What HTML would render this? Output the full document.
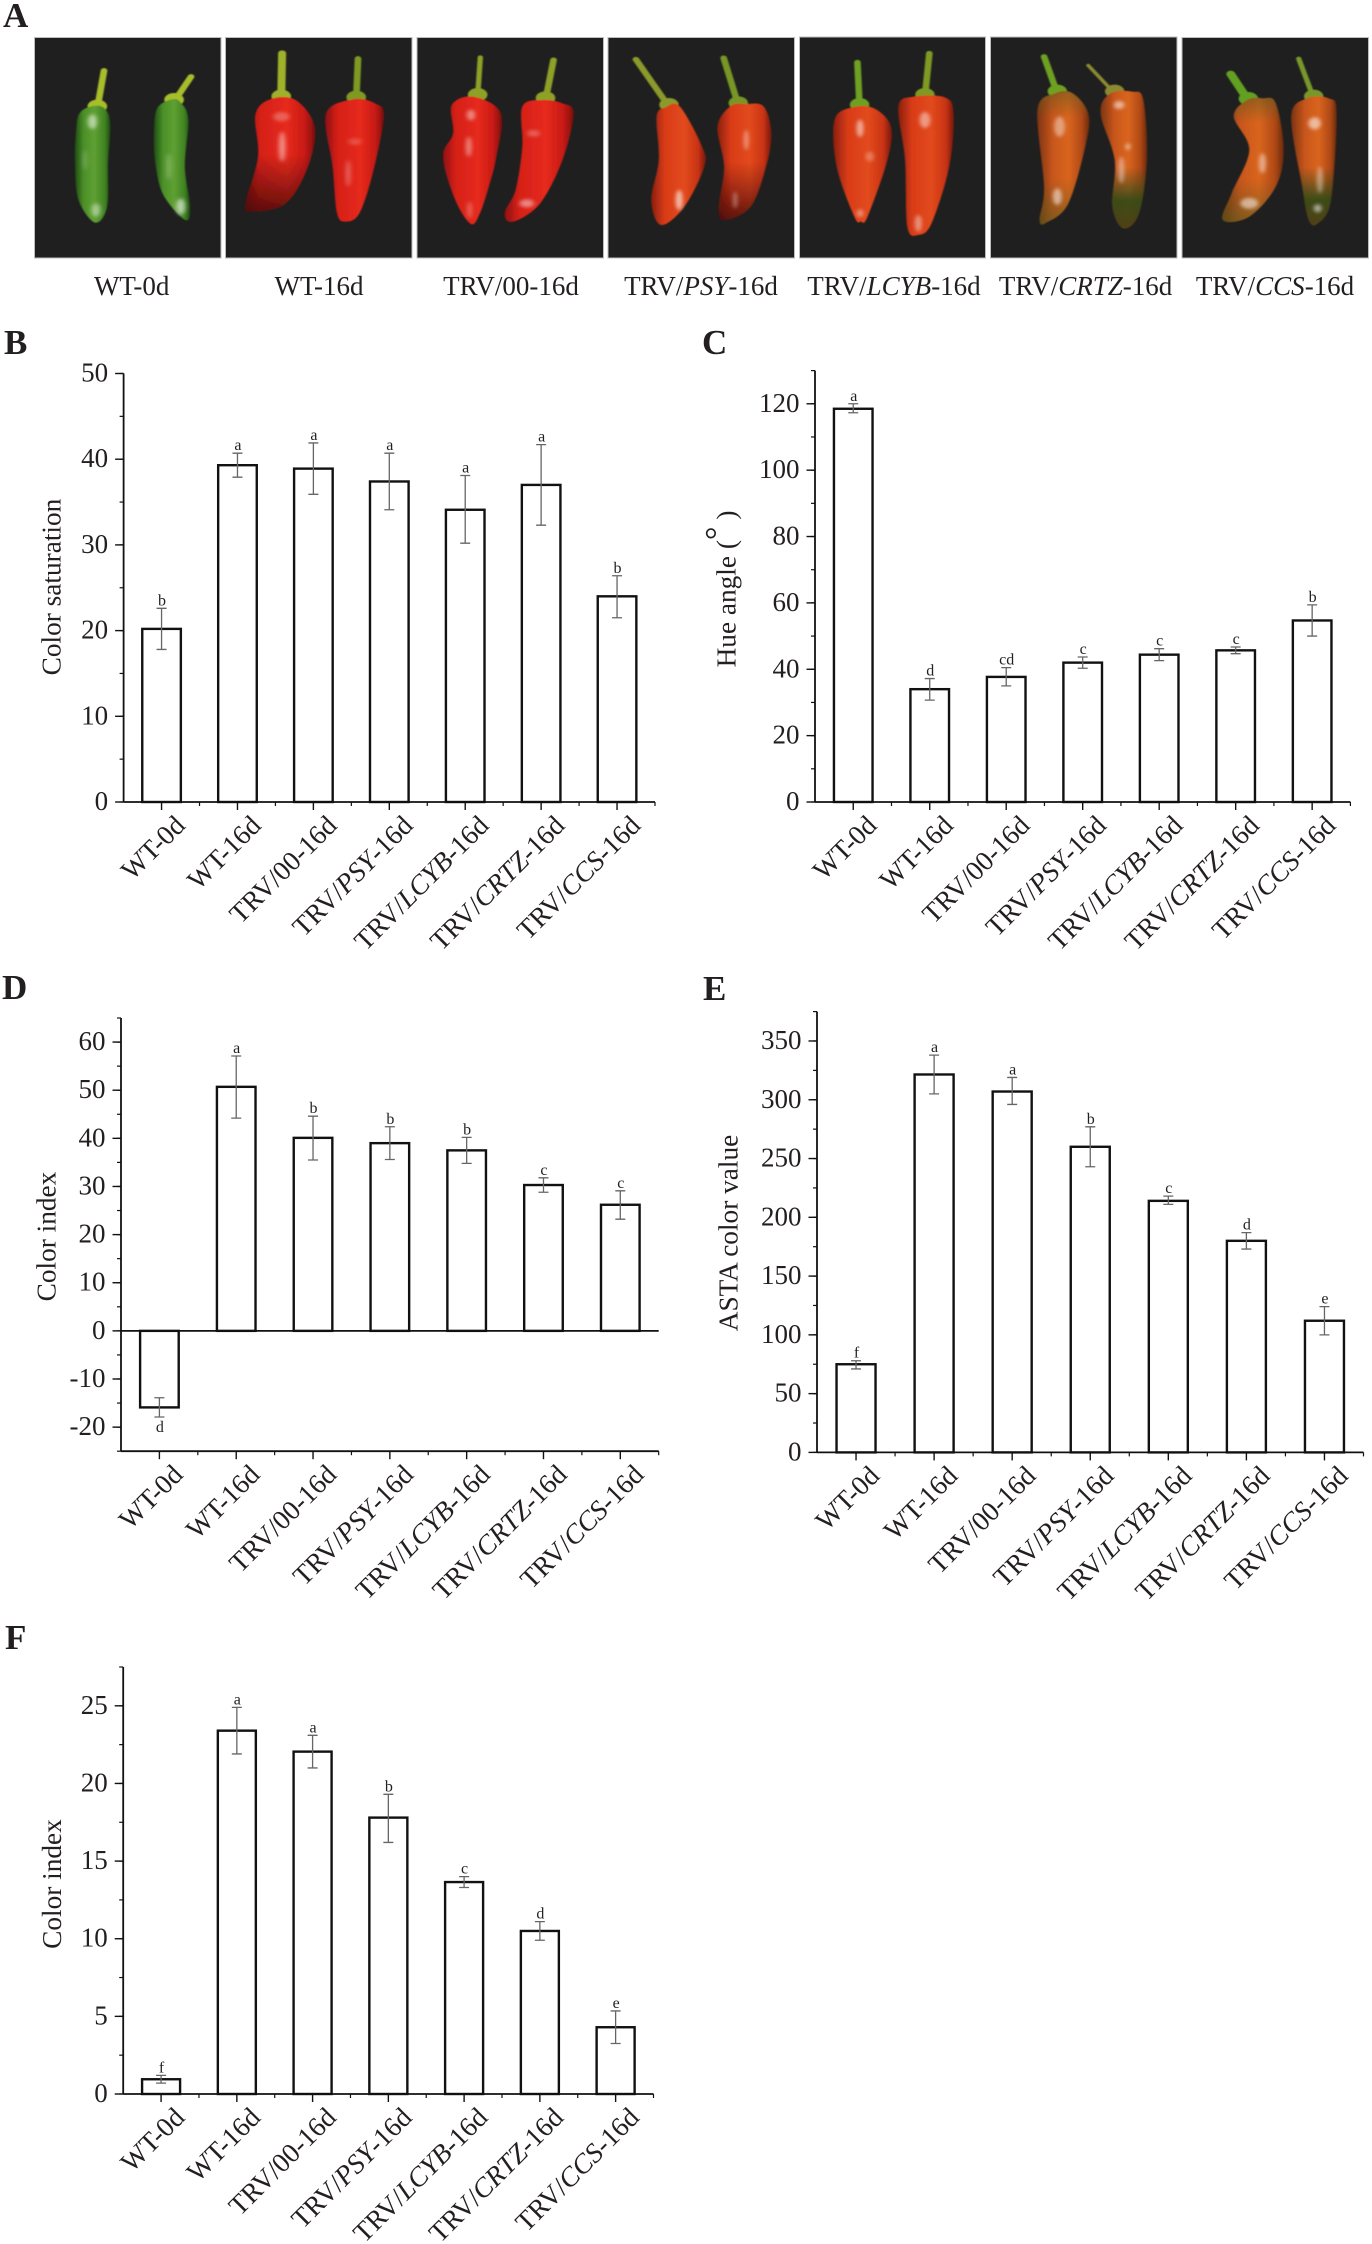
<!DOCTYPE html>
<html lang="en">
<head>
<meta charset="utf-8">
<title>Pepper colour phenotypes</title>
<style>
html,body{margin:0;padding:0;background:#fff}
#figure{position:absolute;left:0;top:0;display:block}
text{font-family:"Liberation Serif","Noto Serif CJK SC",serif;fill:#231f20}
</style>
</head>
<body>
<svg id="figure" xmlns="http://www.w3.org/2000/svg" width="1372" height="2244" viewBox="0 0 1372 2244">
<defs>
<linearGradient id="g-green" x1="0" x2="1" y1="0" y2="0"><stop offset="0" stop-color="#1f4f12"/><stop offset=".25" stop-color="#4b8f28"/><stop offset=".55" stop-color="#5fa032"/><stop offset=".85" stop-color="#3f8222"/><stop offset="1" stop-color="#1d4a10"/></linearGradient>
<linearGradient id="g-red" x1="0" x2="1" y1="0" y2="0"><stop offset="0" stop-color="#8a1010"/><stop offset=".2" stop-color="#d41f18"/><stop offset=".6" stop-color="#e62a1c"/><stop offset=".85" stop-color="#c81a14"/><stop offset="1" stop-color="#7c0e0e"/></linearGradient>
<linearGradient id="g-redorange" x1="0" x2="1" y1="0" y2="0"><stop offset="0" stop-color="#8c1f0e"/><stop offset=".25" stop-color="#d93c18"/><stop offset=".6" stop-color="#e24a1c"/><stop offset=".85" stop-color="#c93414"/><stop offset="1" stop-color="#7a180c"/></linearGradient>
<linearGradient id="g-orange" x1="0" x2="1" y1="0" y2="0"><stop offset="0" stop-color="#7c3410"/><stop offset=".3" stop-color="#c8561c"/><stop offset=".6" stop-color="#d9651f"/><stop offset=".85" stop-color="#b24a16"/><stop offset="1" stop-color="#6c2a0c"/></linearGradient>
<linearGradient id="t-dark" x1="0" x2="0" y1="0" y2="1"><stop offset=".5" stop-color="#4a0808" stop-opacity="0"/><stop offset="1" stop-color="#3e0808" stop-opacity=".8"/></linearGradient>
<linearGradient id="t-green" x1="0" x2="0" y1="0" y2="1"><stop offset=".55" stop-color="#2c4a18" stop-opacity="0"/><stop offset=".8" stop-color="#2c4a18" stop-opacity=".9"/><stop offset="1" stop-color="#3a3a14" stop-opacity=".85"/></linearGradient>
<linearGradient id="t-olive" x1="0" x2="0" y1="0" y2="1"><stop offset="0" stop-color="#5a5a20" stop-opacity=".55"/><stop offset=".2" stop-color="#5a5a20" stop-opacity="0"/><stop offset=".65" stop-color="#5a5a20" stop-opacity="0"/><stop offset="1" stop-color="#4c5a1c" stop-opacity=".6"/></linearGradient>
<filter id="soft" x="-20%" y="-20%" width="140%" height="140%"><feGaussianBlur stdDeviation="1.6"/></filter>
<filter id="glow" x="-50%" y="-50%" width="200%" height="200%"><feGaussianBlur stdDeviation="4.5"/></filter>
</defs>

<g id="photo-panel">
<rect x="34.5" y="37.5" width="186.5" height="220.5" fill="#1f1f1f" stroke="#bdbdbd"/>
<rect x="225.5" y="37.5" width="186.5" height="220.5" fill="#1f1f1f" stroke="#bdbdbd"/>
<rect x="417" y="37.5" width="186.5" height="220.5" fill="#1f1f1f" stroke="#bdbdbd"/>
<rect x="608" y="37.5" width="186.5" height="220.5" fill="#1f1f1f" stroke="#bdbdbd"/>
<rect x="799.5" y="37" width="186" height="221" fill="#1f1f1f" stroke="#bdbdbd"/>
<rect x="990.5" y="37" width="186.5" height="221" fill="#1f1f1f" stroke="#bdbdbd"/>
<rect x="1182" y="37.5" width="186.5" height="220.5" fill="#1f1f1f" stroke="#bdbdbd"/>
<g id="peppers-left" transform="scale(0.4464 0.3333)"></g>
<g id="peppers-right" transform="translate(680 0) scale(0.4413 0.3333)"></g>
</g>

<g font-size="27" text-anchor="middle">
<text x="131.7" y="295">WT-0d</text>
<text x="319" y="295">WT-16d</text>
<text x="511" y="295">TRV/00-16d</text>
<text x="701" y="295">TRV/<tspan font-style="italic">PSY</tspan>-16d</text>
<text x="894" y="295">TRV/<tspan font-style="italic">LCYB</tspan>-16d</text>
<text x="1085.6" y="295">TRV/<tspan font-style="italic">CRTZ</tspan>-16d</text>
<text x="1275" y="295">TRV/<tspan font-style="italic">CCS</tspan>-16d</text>
</g>

<g font-size="35" font-weight="bold">
<text x="3" y="27">A</text>
<text x="4" y="354">B</text>
<text x="702" y="354">C</text>
<text x="2" y="999">D</text>
<text x="703" y="1000">E</text>
<text x="5" y="1649">F</text>
</g>

<g font-size="27.3" text-anchor="middle">
<text transform="translate(60.7 587) rotate(-90)">Color saturation</text>
<text transform="translate(735.5 589) rotate(-90)">Hue angle (<tspan font-size="34" dy="-7">°</tspan><tspan dy="7"> )</tspan></text>
<text transform="translate(55.5 1236.5) rotate(-90)">Color index</text>
<text transform="translate(737.7 1233) rotate(-90)">ASTA color value</text>
<text transform="translate(61 1884) rotate(-90)">Color index</text>
</g>

<g id="charts"></g>
</svg>

<script>
const categories = ["WT-0d", "WT-16d", "TRV/00-16d", "TRV/PSY-16d", "TRV/LCYB-16d", "TRV/CRTZ-16d", "TRV/CCS-16d"];

const bValues = [20.2, 39.3, 38.9, 37.4, 34.1, 37.0, 24.0];
const bHigh = [22.6, 40.7, 41.9, 40.7, 38.1, 41.7, 26.4];
const bLow = [17.8, 37.9, 35.9, 34.1, 30.2, 32.3, 21.5];
const bLetters = ["b", "a", "a", "a", "a", "a", "b"];
const bTicks = [0, 10, 20, 30, 40, 50];

const cValues = [118.5, 34.0, 37.7, 42.0, 44.4, 45.7, 54.7];
const cHigh = [120.0, 37.2, 40.5, 43.7, 46.2, 46.7, 59.4];
const cLow = [117.3, 30.7, 35.0, 40.3, 42.6, 44.7, 50.0];
const cLetters = ["a", "d", "cd", "c", "c", "c", "b"];
const cTicks = [0, 20, 40, 60, 80, 100, 120];

const dValues = [-15.9, 50.7, 40.1, 39.0, 37.5, 30.3, 26.2];
const dHigh = [-13.9, 57.1, 44.6, 42.4, 40.2, 31.8, 29.1];
const dLow = [-17.9, 44.2, 35.5, 35.6, 34.8, 28.8, 23.2];
const dLetters = ["d", "a", "b", "b", "b", "c", "c"];
const dTicks = [-20, -10, 0, 10, 20, 30, 40, 50, 60];

const eValues = [75, 321.5, 307, 260, 214, 180, 112];
const eHigh = [78, 338, 319, 277, 218, 187, 124];
const eLow = [71, 305, 296, 243, 211, 173, 100];
const eLetters = ["f", "a", "a", "b", "c", "d", "e"];
const eTicks = [0, 50, 100, 150, 200, 250, 300, 350];

const fValues = [0.95, 23.4, 22.05, 17.8, 13.65, 10.5, 4.3];
const fHigh = [1.2, 24.9, 23.1, 19.3, 14.0, 11.1, 5.35];
const fLow = [0.7, 21.9, 21.0, 16.2, 13.3, 9.9, 3.25];
const fLetters = ["f", "a", "a", "b", "c", "d", "e"];
const fTicks = [0, 5, 10, 15, 20, 25];

const NS = "http://www.w3.org/2000/svg";

function make(parent, tag, attrs) {
  const node = document.createElementNS(NS, tag);
  for (const key in attrs) node.setAttribute(key, attrs[key]);
  parent.appendChild(node);
  return node;
}

function drawPanel(cfg) {
  const root = make(document.getElementById("charts"), "g", {});
  
  

  const y = v => cfg.bottom - (v - cfg.min) * (cfg.bottom - cfg.top) / (cfg.max - cfg.min);
  const band = (cfg.right - cfg.left) / categories.length;
  const x = i => cfg.left + (i + 0.5) * band;

  cfg.values.forEach((value, i) => {
    const base = y(0);
    const tip = y(value);
    const bar = make(root, "rect", {
      x: x(i) - cfg.barWidth / 2,
      y: Math.min(base, tip),
      width: cfg.barWidth,
      height: Math.abs(base - tip),
      fill: "#fff",
      stroke: "#111",
      "stroke-width": 2.4
    });
    
    

    const hi = y(cfg.high[i]);
    const lo = y(cfg.low[i]);
    const err = make(root, "path", {
      d: "M" + (x(i) - 5) + " " + hi + "H" + (x(i) + 5) + "M" + x(i) + " " + hi + "V" + lo + "M" + (x(i) - 5) + " " + lo + "H" + (x(i) + 5),
      fill: "none",
      stroke: "#666",
      "stroke-width": 1.3
    });
    
    

    const letter = make(root, "text", {
      x: x(i) + 0.5,
      y: value < 0 ? lo + 15 : hi - 3,
      "font-size": 16,
      "text-anchor": "middle"
    });
    letter.textContent = cfg.letters[i];
    
    
  });

  const yAxis = make(root, "line", {
    x1: cfg.left, x2: cfg.left, y1: y(cfg.max), y2: cfg.bottom, stroke: "#111", "stroke-width": 1.8
  });
  
  

  const xAxis = make(root, "line", {
    x1: cfg.left, x2: cfg.right, y1: cfg.bottom, y2: cfg.bottom, stroke: "#111", "stroke-width": 1.8
  });
  
  

  if (cfg.min < 0) {
    const zero = make(root, "line", {
      x1: cfg.left, x2: cfg.right, y1: y(0), y2: y(0), stroke: "#111", "stroke-width": 1.8
    });
    
    
  }

  cfg.ticks.forEach(t => {
    const tick = make(root, "line", {
      x1: cfg.left - 8.5, x2: cfg.left, y1: y(t), y2: y(t), stroke: "#111", "stroke-width": 1.4
    });
    
    

    const label = make(root, "text", {
      x: cfg.left - 15.5,
      y: y(t) + 8,
      "font-size": 27,
      "text-anchor": "end"
    });
    label.textContent = String(t);
    
    
  });

  for (let v = cfg.min; v <= cfg.max + 1e-6; v += cfg.minorStep) {
    const minor = make(root, "line", {
      x1: cfg.left - 4, x2: cfg.left, y1: y(v), y2: y(v), stroke: "#111", "stroke-width": 1.2
    });
    
    
  }

  categories.forEach((name, i) => {
    const tick = make(root, "line", {
      x1: x(i), x2: x(i), y1: cfg.bottom, y2: cfg.bottom + 8, stroke: "#111", "stroke-width": 1.4
    });
    
    

    const minor = make(root, "line", {
      x1: cfg.left + (i + 1) * band, x2: cfg.left + (i + 1) * band, y1: cfg.bottom, y2: cfg.bottom + 4, stroke: "#111", "stroke-width": 1.2
    });
    
    

    const label = make(root, "text", {
      transform: "translate(" + (x(i) + 25) + " " + (cfg.bottom + 25) + ") rotate(-45)",
      "font-size": 27.5,
      "text-anchor": "end"
    });
    
    
    const parts = name.match(/^(TRV\/)(PSY|LCYB|CRTZ|CCS)(-16d)$/);
    if (parts) {
      make(label, "tspan", {}).textContent = parts[1];
      make(label, "tspan", { "font-style": "italic" }).textContent = parts[2];
      make(label, "tspan", {}).textContent = parts[3];
    } else {
      label.textContent = name;
    }
  });
}

drawPanel({ left: 123.6, right: 655, bottom: 802, top: 373.5, min: 0, max: 50, minorStep: 5, barWidth: 38.6, values: bValues, high: bHigh, low: bLow, letters: bLetters, ticks: bTicks });
drawPanel({ left: 815, right: 1350.4, bottom: 802, top: 370.6, min: 0, max: 130, minorStep: 10, barWidth: 38.6, values: cValues, high: cHigh, low: cLow, letters: cLetters, ticks: cTicks });
drawPanel({ left: 121, right: 658.7, bottom: 1451.2, top: 1018, min: -25, max: 65, minorStep: 5, barWidth: 38.6, values: dValues, high: dHigh, low: dLow, letters: dLetters, ticks: dTicks });
drawPanel({ left: 817, right: 1363.5, bottom: 1452.4, top: 1011.6, min: 0, max: 375, minorStep: 25, barWidth: 39, values: eValues, high: eHigh, low: eLow, letters: eLetters, ticks: eTicks });
drawPanel({ left: 123.2, right: 653.5, bottom: 2094, top: 1667, min: 0, max: 27.5, minorStep: 2.5, barWidth: 38, values: fValues, high: fHigh, low: fLow, letters: fLetters, ticks: fTicks });

function smooth(points) {
  const n = points.length;
  let d = "M" + points[0][0] + " " + points[0][1];
  for (let i = 0; i < n; i++) {
    const p0 = points[(i - 1 + n) % n], p1 = points[i], p2 = points[(i + 1) % n], p3 = points[(i + 2) % n];
    d += "C" + (p1[0] + (p2[0] - p0[0]) / 6) + " " + (p1[1] + (p2[1] - p0[1]) / 6) + " " +
      (p2[0] - (p3[0] - p1[0]) / 6) + " " + (p2[1] - (p3[1] - p1[1]) / 6) + " " + p2[0] + " " + p2[1];
  }
  return d + "Z";
}

function drawPepper(groupId, p) {
  const group = make(document.getElementById(groupId), "g", { filter: "url(#soft)" });
  
  
  make(group, "path", {
    d: "M" + p.stem[0] + " " + p.stem[1] + "L" + p.stem[2] + " " + p.stem[3],
    stroke: p.stemColor, "stroke-width": p.stemWidth || 15, fill: "none", "stroke-linecap": "round"
  });
  make(group, "ellipse", { cx: p.stem[2], cy: p.stem[3] - 6, rx: 22, ry: 20, fill: p.stemColor });
  const d = smooth(p.body);
  make(group, "path", { d: d, fill: "url(#" + p.fill + ")" });
  if (p.tint) make(group, "path", { d: d, fill: "url(#" + p.tint + ")" });
  const shine = make(group, "g", { filter: "url(#glow)", fill: "#fff" });
  (p.shine || []).forEach(s => {
    make(shine, "ellipse", { cx: s[0], cy: s[1], rx: s[2], ry: s[3], opacity: (s[4] || 0.75) * 0.75 });
  });
}

[
  { stem: [233, 212, 218, 325], stemColor: "#a8bd2c", fill: "g-green", body: [[208, 318], [178, 340], [170, 400], [168, 490], [176, 600], [213, 668], [240, 620], [242, 490], [247, 370], [234, 325]], shine: [[207, 365, 10, 22], [215, 630, 10, 20, .6], [190, 480, 5, 30, .25]] },
  { stem: [428, 230, 390, 305], stemColor: "#a8bd2c", fill: "g-green", body: [[385, 298], [352, 325], [345, 400], [348, 490], [366, 585], [415, 660], [426, 620], [414, 500], [422, 360], [405, 308]], shine: [[405, 620, 10, 24, .8], [378, 500, 6, 40, .3]] },
  { stem: [632, 160, 630, 295], stemColor: "#9fb02a", stemWidth: 18, fill: "g-red", tint: "t-dark", body: [[605, 298], [572, 345], [578, 470], [550, 610], [562, 635], [640, 610], [690, 500], [705, 380], [662, 300]], shine: [[630, 350, 18, 14, .35], [632, 440, 7, 45, .65]] },
  { stem: [802, 176, 798, 298], stemColor: "#7f9a24", fill: "g-red", body: [[790, 298], [730, 342], [745, 500], [755, 640], [775, 665], [805, 640], [835, 520], [860, 350], [840, 310]], shine: [[780, 520, 5, 40, .4], [795, 425, 15, 10, .25]] },
  { stem: [1076, 172, 1070, 290], stemColor: "#8ea026", stemWidth: 12, fill: "g-red", body: [[1060, 290], [1012, 315], [1015, 400], [992, 470], [1020, 600], [1055, 672], [1075, 640], [1095, 560], [1112, 470], [1122, 340]], shine: [[1055, 345, 9, 16, .6], [1050, 440, 6, 30, .6], [1052, 630, 5, 25, .4]] },
  { stem: [1240, 180, 1222, 300], stemColor: "#8ea026", fill: "g-red", body: [[1215, 300], [1170, 320], [1170, 440], [1155, 570], [1130, 640], [1150, 665], [1210, 610], [1260, 480], [1285, 340], [1260, 310]], shine: [[1195, 400, 14, 10, .35], [1180, 610, 16, 12, .6]] }
].forEach(p => drawPepper("peppers-left", p));

[
  { stem: [-100, 178, -25, 320], stemColor: "#8b9a2c", fill: "g-redorange", body: [[-33, 322], [-53, 350], [-48, 480], [-65, 600], [-43, 675], [10, 620], [55, 500], [50, 440], [0, 320]], shine: [[-2, 600, 8, 30, .8]] },
  { stem: [99, 174, 132, 315], stemColor: "#789628", fill: "g-redorange", body: [[115, 318], [85, 380], [100, 500], [88, 620], [100, 660], [160, 620], [195, 500], [207, 400], [190, 320], [150, 312]], tint: "t-dark", shine: [[150, 420, 6, 30, .5], [125, 600, 5, 25, .45]] },
  { stem: [402, 187, 407, 320], stemColor: "#6ea024", fill: "g-redorange", body: [[390, 322], [350, 360], [355, 500], [395, 650], [410, 665], [425, 650], [470, 480], [478, 380], [440, 325]], shine: [[408, 385, 8, 26, .7], [430, 470, 10, 15, .35], [408, 640, 8, 12, .5]] },
  { stem: [565, 160, 555, 290], stemColor: "#7f9a24", fill: "g-redorange", body: [[530, 290], [495, 320], [510, 480], [515, 680], [540, 705], [570, 670], [610, 500], [620, 340], [600, 292]], shine: [[555, 360, 12, 24, .6], [540, 670, 8, 25, .55]] },
  { stem: [825, 170, 855, 280], stemColor: "#6ea024", fill: "g-orange", tint: "t-olive", body: [[850, 280], [810, 330], [825, 560], [815, 660], [830, 668], [880, 610], [920, 430], [925, 340], [890, 280]], shine: [[860, 380, 12, 30, .55], [855, 590, 10, 25, .7]] },
  { stem: [925, 196, 985, 280], stemColor: "#8a8a30", stemWidth: 9, fill: "g-orange", tint: "t-green", body: [[975, 280], [953, 340], [985, 480], [980, 620], [1005, 685], [1040, 640], [1058, 480], [1050, 300], [1025, 275]], shine: [[995, 315, 12, 12, .7], [1000, 510, 7, 40, .55], [1015, 440, 6, 10, .6]] },
  { stem: [1248, 222, 1288, 302], stemColor: "#62a024", stemWidth: 20, fill: "g-orange", tint: "t-olive", body: [[1285, 300], [1255, 350], [1290, 450], [1250, 580], [1230, 660], [1290, 650], [1350, 560], [1368, 450], [1350, 310], [1320, 295]], shine: [[1320, 490, 8, 30, .6], [1290, 610, 20, 16, .7]] },
  { stem: [1402, 176, 1436, 295], stemColor: "#78982a", stemWidth: 12, fill: "g-orange", tint: "t-green", body: [[1420, 295], [1385, 350], [1410, 560], [1425, 660], [1445, 670], [1475, 600], [1488, 340], [1470, 295]], shine: [[1438, 370, 14, 18, .75], [1450, 540, 7, 40, .5], [1445, 625, 9, 12, .7]] }
].forEach(p => drawPepper("peppers-right", p));
</script>
</body>
</html>
